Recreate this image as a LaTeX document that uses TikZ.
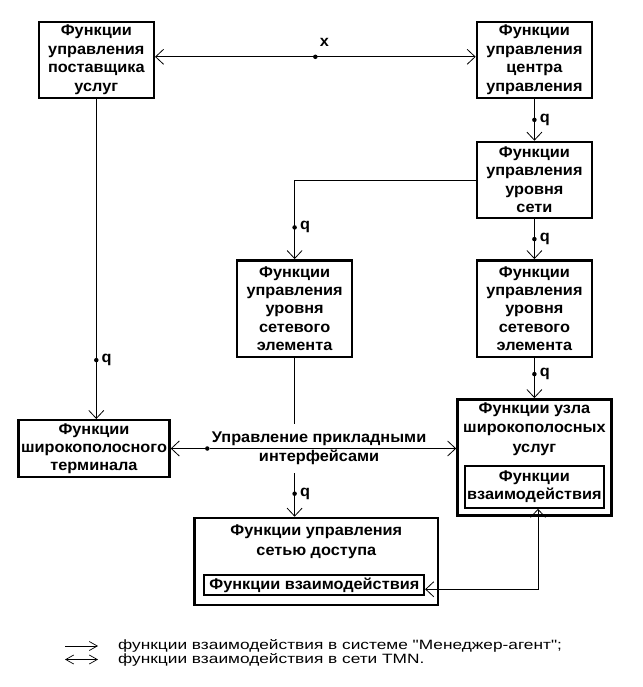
\documentclass[tikz,border=0pt]{standalone}
\usepackage{fontspec}
\setmainfont{Liberation Sans}
\newfontfamily\boxfont[FakeStretch=1.05]{Liberation Sans}
\newfontfamily\legfont[FakeStretch=1.28]{Liberation Sans}
\usepackage{tikz}
\usetikzlibrary{arrows.meta, positioning}

\begin{document}
\begin{tikzpicture}[
  x=1pt, y=1pt,
  box/.style={draw, line width=2.4pt, minimum width=115pt, font=\boxfont\bfseries\fontsize{15.5}{18.4}\selectfont,
              align=center, inner sep=1pt},
  inbox/.style={draw, line width=2pt, font=\boxfont\bfseries\fontsize{15.5}{18.4}\selectfont, align=center, inner sep=1pt},
  txt/.style={font=\boxfont\bfseries\fontsize{15.5}{19.5}\selectfont, align=center, inner sep=0pt},
  arrow/.style={-{Straight Barb[length=8pt, width=15pt]}, line width=0.8pt},
  both/.style={{Straight Barb[length=8pt, width=15pt]}-{Straight Barb[length=8pt, width=15pt]}, line width=0.8pt},
  legarrow/.style={-{Straight Barb[length=8pt, width=9pt]}, line width=0.7pt},
  legboth/.style={{Straight Barb[length=8pt, width=9pt]}-{Straight Barb[length=8pt, width=9pt]}, line width=0.7pt},
  dot/.style={circle, fill, inner sep=0pt, minimum size=4.5pt},
  qlbl/.style={font=\boxfont\bfseries\fontsize{15.5}{18.4}\selectfont, inner sep=0pt},
  legend/.style={font=\legfont\fontsize{13.5}{16}\selectfont, anchor=west, inner sep=0pt}
]
  \useasboundingbox (0,0) rectangle (642,-687);

  \node[box, minimum height=76pt] (sp) at (96.3,-59.8) {Функции\\управления\\поставщика\\услуг};
  \node[box, minimum height=76pt, right=320.7pt of sp] (cc) {Функции\\управления\\центра\\управления};
  \node[box, minimum height=76pt, below=41.7pt of cc] (nl) {Функции\\управления\\уровня\\сети};
  \node[box, minimum height=96.6pt, below=40pt of nl] (ne2) {Функции\\управления\\уровня\\сетевого\\элемента};
  \node[box, minimum height=96.6pt, left=122.4pt of ne2] (ne1) {Функции\\управления\\уровня\\сетевого\\элемента};
  \node[box, minimum width=151pt, minimum height=57pt] (term) at (94,-448.7) {Функции\\широкополосного\\терминала};
  \node[box, minimum width=154pt, minimum height=116pt, below=40pt of ne2] (bn) {};
  \node[txt, below=4.4pt of bn.north] (bnt) {Функции узла\\широкополосных\\услуг};
  \node[inbox, minimum width=138.7pt, minimum height=42pt, above=7.7pt of bn.south] (bni) {Функции\\взаимодействия};
  \node[box, minimum width=243.6pt, minimum height=87pt] (ac) at (316.3,-561.4) {};
  \node[txt, below=8pt of ac.north] (act) {Функции управления\\сетью доступа};
  \node[inbox, minimum width=219.7pt, minimum height=19.7pt, above=10pt of ac.south, xshift=-2pt] (aci) {Функции взаимодействия};

  \draw[both] ([yshift=3pt]sp.east) -- node[dot]{} node[qlbl, xshift=9pt, yshift=14pt]{x} ([yshift=3pt]cc.west);
  \draw[arrow] (cc) -- node[dot]{} node[qlbl, right=5pt]{q} (nl);
  \draw[arrow] (nl.west) -| node[pos=0.8, dot]{} node[pos=0.8, qlbl, right=5pt]{q} (ne1.north);
  \draw[arrow] (nl) -- node[dot]{} node[qlbl, right=5pt]{q} (ne2);
  \draw[arrow] (ne2) -- node[pos=0.4, dot]{} node[pos=0.4, qlbl, right=5pt]{q} (bn);
  \draw[arrow] (sp) -- node[pos=0.816, dot]{} node[pos=0.816, qlbl, right=5pt]{q} (sp |- term.north);
  \draw[arrow] (ne1) -- node[pos=0.855, dot]{} node[pos=0.855, qlbl, right=5pt]{q} (ne1 |- ac.north);

  \node[dot] (ai) at (207.3,-448.5) {};
  \node[txt, fill=white, inner xsep=2pt, inner ysep=8pt, right=0pt of ai] (ail) {Управление прикладными\\интерфейсами};
  \draw[arrow] (ai) -- (ai -| term.east);
  \draw[arrow] (ai) -- (ai -| bn.west);
  \draw[both] ([yshift=-4pt]aci.east) -| ([xshift=3.6pt]bni.south);

  \node[legend] (lg1) at (118,-646) {функции взаимодействия в системе "Менеджер-агент";};
  \node[legend] (lg2) at (118,-659.5) {функции взаимодействия в сети TMN.};
  \draw[legarrow] ([xshift=-53pt]lg1.west) -- ([xshift=-20pt]lg1.west);
  \draw[legboth] ([xshift=-53pt]lg2.west) -- ([xshift=-20pt]lg2.west);
\end{tikzpicture}
\end{document}
